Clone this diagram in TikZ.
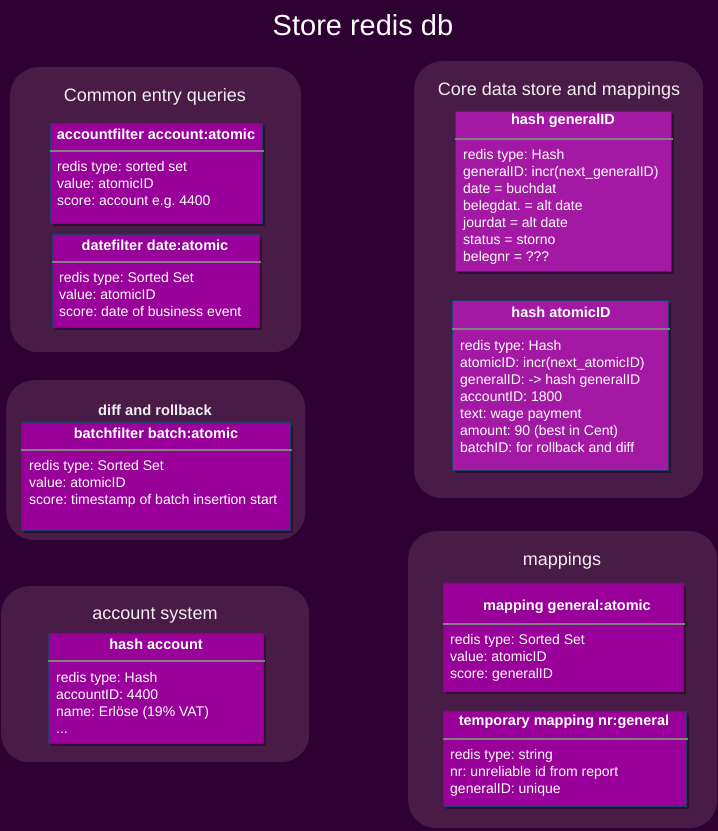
\documentclass[tikz,border=0pt]{standalone}
\usepackage{fontspec}
\setmainfont{Liberation Sans}
\usetikzlibrary{shadows}
\frenchspacing

\definecolor{bgdark}{HTML}{2F0032}
\definecolor{grpfill}{HTML}{481C46}
\definecolor{boxfill}{HTML}{990099}
\definecolor{corefill}{HTML}{A419A4}
\definecolor{boxline}{HTML}{233A6A}
\definecolor{txtlight}{HTML}{F4EEF4}

\tikzset{
    group/.style={fill=grpfill, rounded corners=28pt, anchor=north west, inner sep=0pt},
    grptitle/.style={text=txtlight, font=\fontsize{18}{21}\selectfont},
    table/.style={fill=boxfill, draw=boxline, line width=1pt, anchor=north west, inner sep=0pt,
        drop shadow={shadow xshift=2.5pt, shadow yshift=-2.5pt, fill=black, opacity=0.35}},
    coretable/.style={table, fill=corefill},
    head/.style={text=white, font=\fontsize{14.5}{17}\selectfont\bfseries},
    body/.style={text=white, font=\fontsize{14}{17}\selectfont, align=left, anchor=north west, inner sep=0pt},
    sepline/.style={draw=gray, line width=1.5pt}
}

\begin{document}
\begin{tikzpicture}[x=1pt, y=-1pt]
    \fill[bgdark] (0,0) rectangle (718,831);
    \useasboundingbox (0,0) rectangle (718,831);
    \node[text=white, font=\fontsize{29}{33}\selectfont] (title) at (363,25) {Store redis db};

    % groups
    \node[group, minimum width=291pt, minimum height=285pt] (common) at (10,67) {};
    \node[group, minimum width=289pt, minimum height=437pt] (core) at (414,61) {};
    \node[group, minimum width=299pt, minimum height=160pt] (diff) at (6,380) {};
    \node[group, minimum width=308pt, minimum height=176pt] (acctsys) at (1,586) {};
    \node[group, minimum width=309pt, minimum height=297pt] (mappings) at (408,531) {};
    \node[grptitle] (commonT) at (155,97) {Common entry queries};
    \node[grptitle] (coreT) at (559,91) {Core data store and mappings};
    \node[head, text=txtlight, font=\fontsize{14.7}{17}\selectfont\bfseries] (diffT) at (155,410) {diff and rollback};
    \node[grptitle] (acctsysT) at (155,616) {account system};
    \node[grptitle] (mappingsT) at (562,561) {mappings};

    % common entry queries
    \node[table, minimum width=212pt, minimum height=100pt] (accf) at (50,123) {};
    \node[head] (accfH) at (156,134) {accountfilter account:atomic};
    \draw[sepline] (50,151) -- (264,151);
    \node[body] (accfB) at (57,161) {redis type: sorted set\\value: atomicID\\score: account e.g. 4400};

    \node[table, minimum width=207pt, minimum height=93pt] (datef) at (52,234) {};
    \node[head] (datefH) at (155,245) {datefilter date:atomic};
    \draw[sepline] (52,262) -- (261,262);
    \node[body] (datefB) at (59,272) {redis type: Sorted Set\\value: atomicID\\score: date of business event};

    % diff and rollback
    \node[table, minimum width=269pt, minimum height=108pt] (batchf) at (21,422) {};
    \node[head] (batchfH) at (156,433) {batchfilter batch:atomic};
    \draw[sepline] (21,450) -- (292,450);
    \node[body] (batchfB) at (29,460) {redis type: Sorted Set\\value: atomicID\\score: timestamp of batch insertion start};

    % account system
    \node[table, minimum width=215pt, minimum height=110pt] (acct) at (48,633) {};
    \node[head] (acctH) at (156,644) {hash account};
    \draw[sepline] (48,661) -- (265,661);
    \node[body] (acctB) at (56,672) {redis type: Hash\\accountID: 4400\\name: Erlöse (19\% VAT)\\...};

    % core data store
    \node[coretable, minimum width=216pt, minimum height=160pt] (genid) at (455,111) {};
    \node[head] (genidH) at (563,121) {hash generalID};
    \draw[sepline] (455,139) -- (673,139);
    \node[body] (genidB) at (463,149) {redis type: Hash\\generalID: incr(next\_generalID)\\date = buchdat\\belegdat. = alt date\\jourdat = alt date\\status = storno\\belegnr = ???};

    \node[coretable, minimum width=216pt, minimum height=170pt] (atomid) at (452,300) {};
    \node[head] (atomidH) at (561,312) {hash atomicID};
    \draw[sepline] (452,329) -- (670,329);
    \node[body] (atomidB) at (460,340) {redis type: Hash\\atomicID: incr(next\_atomicID)\\generalID: -> hash generalID\\accountID: 1800\\text: wage payment\\amount: 90 (best in Cent)\\batchID: for rollback and diff};

    % mappings
    \node[table, minimum width=240pt, minimum height=108pt] (mapga) at (443,583) {};
    \node[head] (mapgaH) at (567,607) {mapping general:atomic};
    \draw[sepline] (443,624) -- (685,624);
    \node[body] (mapgaB) at (450,634) {redis type: Sorted Set\\value: atomicID\\score: generalID};

    \node[table, minimum width=243pt, minimum height=95pt] (tmpmap) at (443,711) {};
    \node[head] (tmpmapH) at (564,722) {temporary mapping nr:general};
    \draw[sepline] (443,739) -- (688,739);
    \node[body] (tmpmapB) at (450,749) {redis type: string\\nr: unreliable id from report\\generalID: unique};
\end{tikzpicture}
\end{document}
